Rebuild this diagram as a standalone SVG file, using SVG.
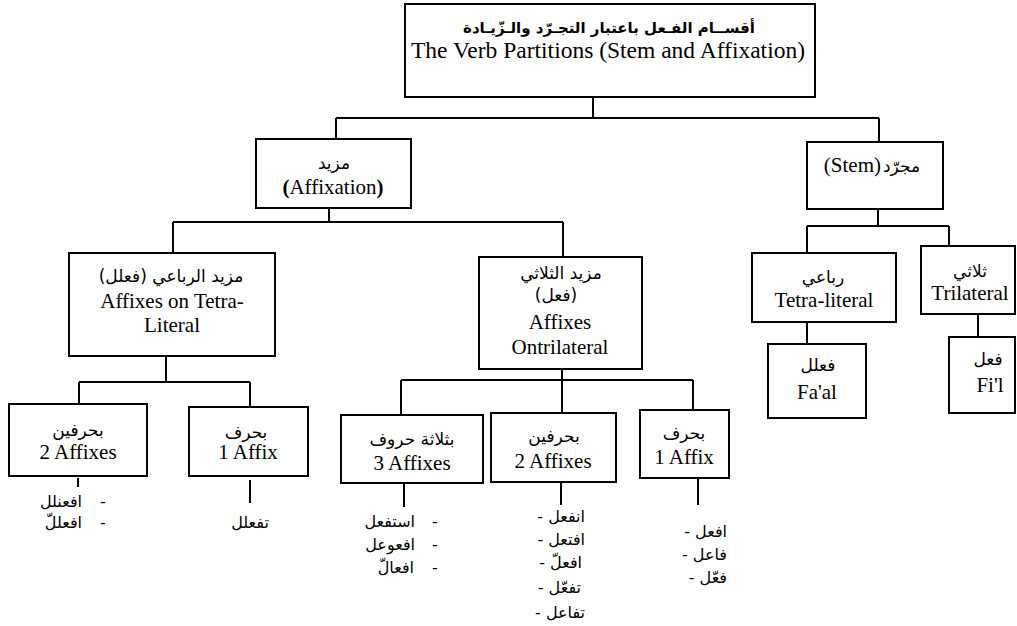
<svg xmlns="http://www.w3.org/2000/svg" width="1017" height="626" viewBox="0 0 1017 626">
<style>
.box{fill:#fff;stroke:#000;stroke-width:2}
.conn path{stroke:#000;stroke-width:2;fill:none}
.en{font-family:"Liberation Serif","Times New Roman",serif;font-size:21px;text-anchor:middle;fill:#000}
.ar{font-family:"DejaVu Sans",sans-serif;font-size:17px;text-anchor:middle;direction:rtl;fill:#000}
.li{font-family:"DejaVu Sans",sans-serif;font-size:16px;fill:#000}
.end{text-anchor:end}
</style>
<rect width="1017" height="626" fill="#fff"/>
<g class="conn">
<path d="M593,97V118M336,118H879M336,118V139M879,118V142"/>
<path d="M329,208V222M173,222H563M173,222V253M563,222V257"/>
<path d="M878,209V226M807,226H949M807,226V253M949,226V246"/>
<path d="M807,322V344M978,314V337"/>
<path d="M166,356V382M79,382H250M79,382V404M250,382V407"/>
<path d="M562,369V380M401,380H693M401,380V415M562,380V413M693,380V410"/>
<path d="M78,478V487M250,480V503M404,483V507M561,482V505M698,478V505"/>
</g>
<g id="root">
<rect class="box" x="405" y="4" width="410" height="93"/>
<text class="ar" x="609" y="33" style="font-weight:bold;font-size:15px">أقســام الفـعل باعتبار التجـرّد والـزّيـادة</text>
<text class="en" x="608" y="58" style="font-size:23.5px">The Verb Partitions (Stem and Affixation)</text>
</g>
<g id="affixation">
<rect class="box" x="256" y="139" width="155" height="69"/>
<text class="ar" x="334" y="169">مزيد</text>
<text class="en" x="333" y="194"><tspan font-weight="bold">(</tspan>Affixation<tspan font-weight="bold">)</tspan></text>
</g>
<g id="stem">
<rect class="box" x="807" y="142" width="136" height="67"/>
<text class="en end" x="881" y="172">(Stem)</text>
<text class="ar" x="883" y="172" style="text-anchor:end">مجرّد</text>
</g>
<g id="tetra-literal">
<rect class="box" x="752" y="253" width="144" height="69"/>
<text class="ar" x="823" y="283">رباعي</text>
<text class="en" x="824" y="307">Tetra-literal</text>
</g>
<g id="trilateral">
<rect class="box" x="921" y="246" width="94" height="68"/>
<text class="ar" x="970" y="277">ثلاثي</text>
<text class="en" x="970" y="300">Trilateral</text>
</g>
<g id="faal">
<rect class="box" x="768" y="344" width="98" height="74"/>
<text class="ar" x="818" y="371">فعلل</text>
<text class="en" x="817" y="399">Fa'al</text>
</g>
<g id="fil">
<rect class="box" x="949" y="337" width="66" height="76"/>
<text class="ar" x="988" y="365">فعل</text>
<text class="en" x="990" y="392">Fi'l</text>
</g>
<g id="affix-tetra">
<rect class="box" x="69" y="253" width="206" height="103"/>
<text class="ar" x="171" y="282">مزيد الرباعي (فعلل)</text>
<text class="en" x="172" y="308">Affixes on Tetra-</text>
<text class="en" x="172" y="332">Literal</text>
</g>
<g id="affix-tri">
<rect class="box" x="479" y="257" width="163" height="112"/>
<text class="ar" x="561" y="279">مزيد الثلاثي</text>
<text class="ar" x="556" y="301">(فعل)</text>
<text class="en" x="560" y="329">Affixes</text>
<text class="en" x="560" y="354">Ontrilateral</text>
</g>
<g id="tetra-2affixes">
<rect class="box" x="9" y="404" width="138" height="72"/>
<text class="ar" x="78" y="436">بحرفين</text>
<text class="en" x="78" y="459">2 Affixes</text>
</g>
<g id="tetra-1affix">
<rect class="box" x="189" y="407" width="119" height="69"/>
<text class="ar" x="246" y="438">بحرف</text>
<text class="en" x="248" y="459">1 Affix</text>
</g>
<g id="tri-3affixes">
<rect class="box" x="341" y="415" width="142" height="68"/>
<text class="ar" x="412" y="445">بثلاثة حروف</text>
<text class="en" x="412" y="470">3 Affixes</text>
</g>
<g id="tri-2affixes">
<rect class="box" x="491" y="413" width="125" height="69"/>
<text class="ar" x="554" y="442">بحرفين</text>
<text class="en" x="553" y="468">2 Affixes</text>
</g>
<g id="tri-1affix">
<rect class="box" x="640" y="410" width="89" height="68"/>
<text class="ar" x="684" y="439">بحرف</text>
<text class="en" x="684" y="464">1 Affix</text>
</g>
<g id="list-tetra-2">
<text class="li" x="100" y="507">-</text><text class="li end" x="82" y="507">افعنلل</text>
<text class="li" x="100" y="528">-</text><text class="li end" x="82" y="528">افعللّ</text>
</g>
<g id="list-tetra-1">
<text class="li" x="250" y="528" text-anchor="middle">تفعلل</text>
</g>
<g id="list-tri-3">
<text class="li" x="432" y="527">-</text><text class="li end" x="415" y="527">استفعل</text>
<text class="li" x="432" y="550">-</text><text class="li end" x="415" y="550">افعوعل</text>
<text class="li" x="432" y="573">-</text><text class="li end" x="414" y="573">افعالّ</text>
</g>
<g id="list-tri-2">
<text class="li end" x="585" y="522">- انفعل</text>
<text class="li end" x="585" y="545">- افتعل</text>
<text class="li end" x="582" y="568">- افعلّ</text>
<text class="li end" x="581" y="593">- تفعّل</text>
<text class="li end" x="585" y="618">- تفاعل</text>
</g>
<g id="list-tri-1">
<text class="li end" x="727" y="537">- افعل</text>
<text class="li end" x="727" y="560">- فاعل</text>
<text class="li end" x="727" y="583">- فعّل</text>
</g>
</svg>
